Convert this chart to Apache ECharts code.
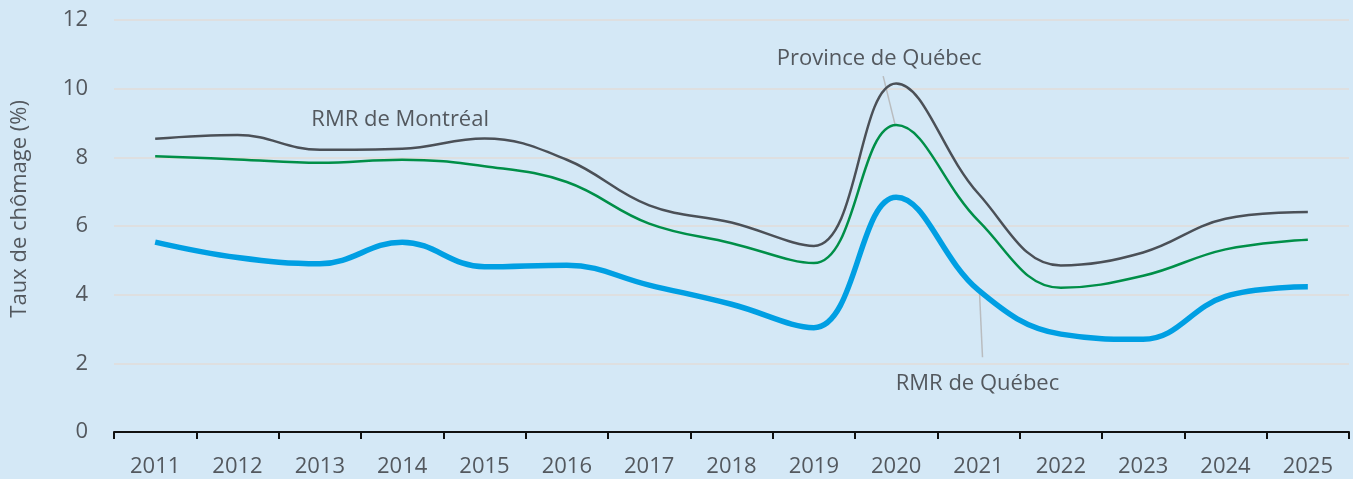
<!DOCTYPE html>
<html>
<head>
    <meta charset="utf-8">
    <title>Taux de chômage</title>
    <script src="https://cdn.jsdelivr.net/npm/echarts@6/dist/echarts.min.js"></script>
    <style>
        html, body { margin: 0; padding: 0; background: #d4e8f6; }
        #main { width: 1353px; height: 479px; }
    </style>
</head>
<body>
    <div id="main"></div>
    <script type="text/javascript">
        // données
        var years = ['2011', '2012', '2013', '2014', '2015', '2016', '2017', '2018',
                     '2019', '2020', '2021', '2022', '2023', '2024', '2025'];
        var montreal = [8.54, 8.65, 8.22, 8.25, 8.55, 7.93, 6.6, 6.1, 5.42, 10.15, 6.94, 4.85, 5.23, 6.21, 6.41];
        var province = [8.03, 7.94, 7.84, 7.93, 7.74, 7.28, 6.07, 5.5, 4.92, 8.94, 6.15, 4.2, 4.55, 5.32, 5.6];
        var quebec   = [5.53, 5.08, 4.9, 5.53, 4.81, 4.86, 4.28, 3.72, 3.04, 6.84, 4.13, 2.85, 2.7, 3.95, 4.23];
        var yTicks = [0, 2, 4, 6, 8, 10, 12];

        var textColor = '#53585e';
        var font = 'Open Sans';
        var fs = 22;

        var myChart = echarts.init(document.getElementById('main'));

        var option = {
            backgroundColor: '#d4e8f6',
            animation: false,
            grid: { left: 114, right: 4, top: 20, bottom: 47 },
            xAxis: {
                type: 'category',
                data: years,
                boundaryGap: true,
                axisLine: { lineStyle: { color: '#111', width: 2 } },
                axisTick: { show: true, inside: false, length: 7, lineStyle: { color: '#111', width: 2 } },
                axisLabel: { color: textColor, fontSize: fs, fontFamily: font, margin: 24 }
            },
            yAxis: {
                type: 'value',
                min: yTicks[0],
                max: yTicks[yTicks.length - 1],
                interval: 2,
                axisLine: { show: false },
                axisTick: { show: false },
                axisLabel: { color: textColor, fontSize: fs, fontFamily: font, margin: 26 },
                splitLine: { lineStyle: { color: '#dedfe0', width: 2 } }
            },
            series: [
                {
                    name: 'RMR de Montréal',
                    type: 'line',
                    data: montreal,
                    smooth: 0.4,
                    symbol: 'none',
                    lineStyle: { color: '#4b5057', width: 2.5 }
                },
                {
                    name: 'Province de Québec',
                    type: 'line',
                    data: province,
                    smooth: 0.4,
                    symbol: 'none',
                    lineStyle: { color: '#008f48', width: 2.5 }
                },
                {
                    name: 'RMR de Québec',
                    type: 'line',
                    data: quebec,
                    smooth: 0.4,
                    symbol: 'none',
                    lineStyle: { color: '#009fe3', width: 5.5 }
                }
            ]
        };
        myChart.setOption(option);

        // étiquettes des séries, placées à partir des points de données
        function px(year, val) {
            return myChart.convertToPixel({ gridIndex: 0 }, [year, val]);
        }
        var pMtl = px('2014', montreal[3]);
        var pProv = px('2020', province[9]);
        var pQc = px('2021', quebec[10]);
        var pMid = px('2011', 6.5);
        var labelStyle = { fill: textColor, fontSize: fs, fontFamily: font, align: 'center', verticalAlign: 'middle' };

        myChart.setOption({
            graphic: [
                // titre de l'axe vertical
                { type: 'text', x: 20, y: pMid[1], rotation: Math.PI / 2, style: Object.assign({ text: 'Taux de chômage (%)' }, labelStyle) },
                { type: 'text', x: pMtl[0] - 2, y: pMtl[1] - 29, style: Object.assign({ text: 'RMR de Montréal' }, labelStyle) },
                { type: 'text', x: pProv[0] - 17, y: pProv[1] - 66, style: Object.assign({ text: 'Province de Québec' }, labelStyle) },
                { type: 'line', shape: { x1: pProv[0] - 13, y1: pProv[1] - 49, x2: pProv[0] - 1, y2: pProv[1] }, style: { stroke: '#b9bcbf', lineWidth: 1.5 } },
                { type: 'text', x: pQc[0] - 1, y: pQc[1] + 94, style: Object.assign({ text: 'RMR de Québec' }, labelStyle) },
                { type: 'line', shape: { x1: pQc[0] + 1, y1: pQc[1] + 2, x2: pQc[0] + 4, y2: pQc[1] + 67 }, style: { stroke: '#b9bcbf', lineWidth: 1.5 } }
            ]
        });
    </script>
</body>
</html>
